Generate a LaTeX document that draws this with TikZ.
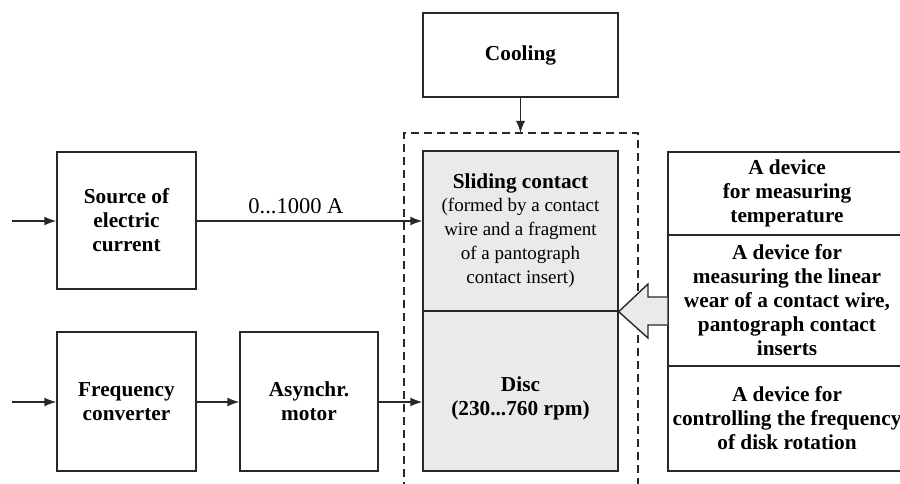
\documentclass[tikz,border=0pt]{standalone}
\usepackage{fontspec}
\setmainfont{Liberation Serif}
\usetikzlibrary{arrows.meta}
\definecolor{linec}{RGB}{40,40,40}
\definecolor{shade}{RGB}{234,234,234}
\newcommand\notetext{\fontsize{19}{22}\selectfont\mdseries}
\tikzset{
  blk/.style={draw=linec, line width=1.4pt, align=center, inner sep=0pt,
    font=\fontsize{21.3}{24}\selectfont\bfseries},
  conn/.style={draw=linec, line width=1.4pt, -{Latex[length=12pt,width=9pt]}},
  frame/.style={draw=linec, line width=1.3pt, dash pattern=on 8pt off 5pt},
  note/.style={font=\fontsize{22.5}{26}\selectfont\mdseries}
}
\begin{document}
\begin{tikzpicture}[x=1pt,y=-1pt]
\useasboundingbox (0,0) rectangle (900,484);

% blocks
\node[blk, minimum width=195pt, minimum height=84pt] (cool) at (520.5,55) {Cooling};
\node[blk, minimum width=139pt, minimum height=137pt] (src) at (126.5,220.5) {Source of\\electric\\current};
\node[blk, minimum width=139pt, minimum height=139pt] (freq) at (126.5,401.5) {Frequency\\converter};
\node[blk, minimum width=138pt, minimum height=139pt] (motor) at (309,401.5) {Asynchr.\\motor};

% sliding contact and disc
\node[blk, fill=shade, minimum width=195pt, minimum height=160pt] (gtop) at (520.5,231)
  {Sliding contact\\[-1pt]{\notetext (formed by a contact}\\{\notetext wire and a fragment}\\{\notetext of a pantograph}\\{\notetext contact insert)}};
\node[blk, fill=shade, minimum width=195pt, minimum height=160pt] (gbot) at (520.5,391)
  {\raisebox{-13pt}[0pt][0pt]{\begin{tabular}{@{}c@{}}Disc\\(230...760 rpm)\end{tabular}}};

% measuring devices
\node[blk, minimum width=238pt, minimum height=83pt] (dev1) at (787,193.5) {A device\\for measuring\\temperature};
\node[blk, minimum width=238pt, minimum height=131pt] (dev2) at (787,300.5) {A device for\\measuring the linear\\wear of a contact wire,\\pantograph contact\\inserts};
\node[blk, minimum width=238pt, minimum height=105pt] (dev3) at (787,418.5) {A device for\\controlling the frequency\\of disk rotation};

% test bench frame
\coordinate (fl) at (404,490);
\coordinate (ftl) at (404,133);
\coordinate (ftr) at (638,133);
\coordinate (fr) at (638,490);
\draw[frame] (fl) -- (ftl) -- (ftr) -- (fr);

% inputs
\coordinate (in1) at (12,221);
\coordinate (in2) at (12,402);
\draw[conn] (in1) -- (in1 -| src.west);
\draw[conn] (in2) -- (in2 -| freq.west);

% connectors
\draw[conn] (in1 -| src.east) -- node[note, above=3pt, pos=0.44] (amp) {0...1000 A} (in1 -| gtop.west);
\draw[conn] (in2 -| freq.east) -- (in2 -| motor.west);
\draw[conn] (in2 -| motor.east) -- (in2 -| gbot.west);
\draw[conn] (cool.south) -- (ftl -| cool.south);

% hollow arrow from the wear gauge
\coordinate (tip) at (gtop.south east);
\filldraw[fill=shade, draw=linec, line width=1.4pt]
  (dev2.west |- 0,297) -- (648,297) -- (648,284) -- (tip) -- (648,338) -- (648,325) -- (dev2.west |- 0,325);
\end{tikzpicture}
\end{document}
